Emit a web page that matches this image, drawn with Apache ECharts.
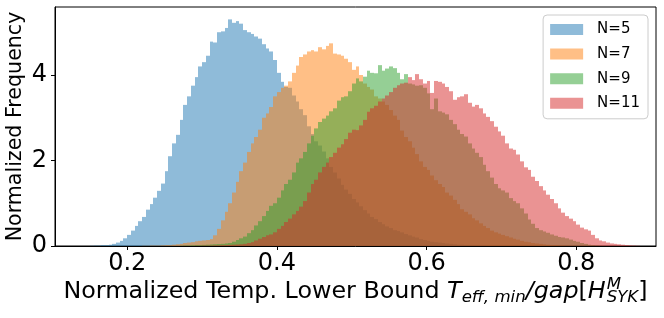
<!DOCTYPE html>
<html>
<head>
<meta charset="utf-8">
<script src="https://cdn.jsdelivr.net/npm/echarts@6/dist/echarts.min.js"></script>
<style>
html,body{margin:0;padding:0;background:#fff;}
#chart{width:664px;height:318px;}
</style>
</head>
<body>
<div id="chart"></div>
<script>
// ---- data ----
const binWidth = 0.005;
const seriesNames = ['N=5', 'N=7', 'N=9', 'N=11'];
const n5Start = 0.150;
const n5Values = [0.005,0.01,0.01,0.02,0.02,0.03,0.05,0.08,0.12,0.18,
  0.26,0.36,0.47,0.58,0.68,0.85,0.98,1.13,1.29,1.46,
  1.75,2.1,2.4,2.6,2.95,3.3,3.5,3.75,3.95,4.2,
  4.3,4.45,4.78,4.76,5.0,5.02,5.1,5.3,5.22,5.26,
  5.2,5.05,5.0,4.96,4.9,4.85,4.72,4.62,4.55,4.35,
  4.05,3.84,3.72,3.7,3.52,3.38,3.2,3.06,2.8,2.62,
  2.45,2.35,2.21,2.05,1.85,1.72,1.58,1.43,1.32,1.22,
  1.1,1.02,0.93,0.84,0.76,0.68,0.63,0.56,0.51,0.46,
  0.42,0.37,0.35,0.32,0.28,0.25,0.22,0.2,0.16,0.14,
  0.12,0.1,0.09,0.08,0.07,0.06,0.05,0.04,0.03,0.03,
  0.02,0.02,0.015,0.01,0.01,0.005];
const n7Start = 0.220;
const n7Values = [0.005,0.005,0.01,0.01,0.01,0.015,0.02,0.02,0.03,0.04,
  0.05,0.07,0.08,0.09,0.11,0.12,0.13,0.14,0.16,0.25,
  0.4,0.6,0.8,1.0,1.25,1.5,1.75,1.95,2.2,2.4,
  2.55,2.72,3.0,3.1,3.25,3.5,3.6,3.7,3.75,3.85,
  4.05,4.22,4.42,4.48,4.55,4.58,4.55,4.65,4.6,4.68,
  4.74,4.5,4.48,4.45,4.38,4.3,4.12,4.2,4.0,3.8,
  3.72,3.66,3.5,3.45,3.38,3.3,3.18,3.05,2.95,2.7,
  2.55,2.45,2.3,2.15,1.98,1.85,1.78,1.65,1.54,1.45,
  1.38,1.25,1.18,1.08,0.98,0.86,0.8,0.74,0.65,0.6,
  0.53,0.47,0.42,0.36,0.32,0.29,0.26,0.23,0.2,0.17,
  0.15,0.12,0.1,0.09,0.07,0.06,0.05,0.04,0.03,0.02,
  0.02,0.01,0.01,0.005];
const n9Start = 0.270;
const n9Values = [0.005,0.01,0.01,0.015,0.02,0.02,0.025,0.03,0.035,0.04,
  0.045,0.05,0.06,0.07,0.1,0.14,0.18,0.22,0.3,0.37,
  0.48,0.58,0.7,0.82,0.94,1.0,1.13,1.3,1.45,1.55,
  1.72,1.95,2.05,2.2,2.4,2.58,2.75,2.9,2.98,3.05,
  3.15,3.22,3.4,3.48,3.5,3.62,3.8,3.92,3.85,3.96,
  4.1,4.05,4.04,4.23,4.1,4.15,4.2,4.16,4.05,3.9,
  4.02,3.8,3.78,3.75,3.76,3.7,3.57,3.2,3.45,3.15,
  3.12,3.08,2.95,2.85,2.72,2.62,2.56,2.4,2.28,2.18,
  2.08,1.9,1.75,1.6,1.45,1.35,1.3,1.25,1.12,1.05,
  1.0,0.88,0.76,0.62,0.52,0.42,0.37,0.34,0.31,0.27,
  0.24,0.21,0.2,0.18,0.15,0.12,0.1,0.07,0.05,0.03,
  0.02,0.01,0.005];
const n11Start = 0.290;
const n11Values = [0.005,0.005,0.01,0.01,0.01,0.015,0.015,0.02,0.02,0.025,
  0.03,0.035,0.04,0.05,0.07,0.09,0.13,0.17,0.21,0.25,
  0.27,0.32,0.4,0.47,0.56,0.64,0.74,0.82,0.92,1.05,
  1.25,1.45,1.55,1.72,1.85,1.95,2.08,2.18,2.3,2.38,
  2.5,2.65,2.72,2.71,2.82,2.95,3.14,3.22,3.28,3.38,
  3.45,3.52,3.6,3.7,3.76,3.8,3.82,3.95,3.88,4.02,
  3.9,3.8,3.86,3.58,3.86,3.84,3.8,3.72,3.62,3.42,
  3.48,3.5,3.55,3.35,3.26,3.3,3.22,3.1,3.02,2.92,
  2.79,2.68,2.58,2.4,2.28,2.25,2.14,1.98,1.84,1.78,
  1.62,1.52,1.4,1.3,1.2,1.1,1.0,0.88,0.78,0.7,
  0.64,0.58,0.5,0.43,0.39,0.36,0.26,0.18,0.13,0.11,
  0.08,0.06,0.05,0.04,0.03,0.02,0.015,0.01,0.005];
const xTickLabels = ['0.2', '0.4', '0.6', '0.8'];
const yTickLabels = ['0', '2', '4'];

// ---- build ----
const starts = [n5Start, n7Start, n9Start, n11Start];
const valueLists = [n5Values, n7Values, n9Values, n11Values];
const colors = ['rgba(31,119,180,0.5)', 'rgba(255,127,14,0.5)', 'rgba(44,160,44,0.5)', 'rgba(214,39,40,0.5)'];
const FONT = 'DejaVu Sans';

function toData(start, vals) {
  return vals.map((v, i) => [+(start + i * binWidth).toFixed(4), v]);
}

function renderBin(params, api) {
  const x0 = api.value(0);
  const v = api.value(1);
  const p0 = api.coord([x0, 0]);
  const p1 = api.coord([x0 + binWidth, v]);
  const l = Math.round(p0[0]), r = Math.round(p1[0]);
  return {
    type: 'rect',
    shape: { x: l, y: p1[1], width: Math.max(r - l, 1), height: p0[1] - p1[1] },
    style: { fill: api.visual('color') }
  };
}

const series = seriesNames.map((name, k) => ({
  name: name,
  type: 'custom',
  renderItem: renderBin,
  itemStyle: { color: colors[k] },
  encode: { x: 0, y: 1 },
  data: toData(starts[k], valueLists[k]),
  z: 2 + k,
  silent: true
}));

// x-axis label (mathtext-like) built as graphic texts
const ctx = document.createElement('canvas').getContext('2d');
function w(text, size, italic) {
  ctx.font = (italic ? 'italic ' : '') + size + 'px "' + FONT + '"';
  return ctx.measureText(text).width;
}
const BIG = 23.8, SMALL = 16.6;
const baseY = 299;
const parts = [
  { t: 'Normalized Temp. Lower Bound ', s: BIG, i: false, dy: 0 },
  { t: 'T', s: BIG, i: true, dy: 0 },
  { t: 'eff, min', s: SMALL, i: true, dy: 4 },
  { t: '/gap', s: BIG, i: true, dy: 0 },
  { t: '[', s: BIG, i: false, dy: 0 },
  { t: 'H', s: BIG, i: true, dy: 0 },
  { t: 'M', s: SMALL, i: true, dy: -9, stackStart: true },
  { t: 'SYK', s: SMALL, i: true, dy: 4, stackEnd: true },
  { t: ']', s: BIG, i: false, dy: 0 }
];
let total = 0;
let stackW = 0;
parts.forEach(p => { p.w = w(p.t, p.s, p.i); });
parts.forEach(p => {
  if (p.stackStart) { stackW = p.w; return; }
  if (p.stackEnd) { total += Math.max(stackW, p.w) + 1; return; }
  total += p.w;
});
const centerX = (55 + 656) / 2;
let cx = centerX - total / 2;
const graphics = [];
let stackX = 0;
parts.forEach(p => {
  let x = cx;
  if (p.stackStart) { stackX = cx + 1; x = stackX; }
  if (p.stackEnd) { x = stackX; }
  graphics.push({
    type: 'text', z: 10,
    x: x, y: baseY + p.dy - 0.3 * p.s,
    style: {
      text: p.t, fill: '#000',
      font: (p.i ? 'italic ' : '') + p.s + 'px "' + FONT + '"',
      textAlign: 'left', textVerticalAlign: 'middle', verticalAlign: 'middle'
    }
  });
  if (p.stackStart) return;
  if (p.stackEnd) { cx = stackX + Math.max(stackW, p.w); return; }
  cx += p.w;
});

const chart = echarts.init(document.getElementById('chart'), null, { renderer: 'canvas' });
chart.setOption({
  animation: false,
  backgroundColor: '#fff',
  textStyle: { fontFamily: FONT },
  grid: { left: 55, right: 8, top: 7, bottom: 72, containLabel: false, outerBoundsMode: 'none',
    show: true, borderColor: '#000', borderWidth: 1, backgroundColor: 'transparent' },
  legend: {
    orient: 'vertical', right: 16, top: 15,
    icon: 'rect', itemWidth: 33, itemHeight: 11, itemGap: 9.6,
    padding: [7, 8, 8, 7],
    backgroundColor: 'rgba(255,255,255,0.8)',
    borderColor: '#cccccc', borderWidth: 1, borderRadius: 4,
    textStyle: { fontFamily: FONT, fontSize: 15, color: '#000', padding: [0, 0, 0, 9] },
    data: seriesNames
  },
  xAxis: {
    type: 'value', min: 0.1035, max: 0.9065, splitNumber: 4,
    axisLine: { show: true, onZero: false, lineStyle: { color: '#000', width: 1 } },
    axisTick: { show: true, length: 4, lineStyle: { color: '#000' } },
    splitLine: { show: false },
    axisLabel: {
      fontFamily: FONT, fontSize: 24, color: '#000', margin: 6,
      showMinLabel: false, showMaxLabel: false,
      formatter: v => { const s = v.toFixed(1); return xTickLabels.indexOf(s) >= 0 ? s : ''; }
    }
  },
  yAxis: {
    type: 'value', min: 0, max: 5.59, interval: 2,
    name: 'Normalized Frequency', nameLocation: 'middle', nameRotate: 90, nameGap: 29,
    nameMoveOverlap: false,
    nameTextStyle: { fontFamily: FONT, fontSize: 20.6, color: '#000' },
    axisLine: { show: true, lineStyle: { color: '#000', width: 1 } },
    axisTick: { show: true, length: 4, lineStyle: { color: '#000' } },
    splitLine: { show: false },
    axisLabel: {
      fontFamily: FONT, fontSize: 24, color: '#000', margin: 8,
      showMaxLabel: false,
      formatter: v => { const s = String(Math.round(v)); return (yTickLabels.indexOf(s) >= 0 && Math.abs(v - Math.round(v)) < 1e-6) ? s : ''; }
    }
  },
  graphic: graphics,
  series: series
});
</script>
</body>
</html>
